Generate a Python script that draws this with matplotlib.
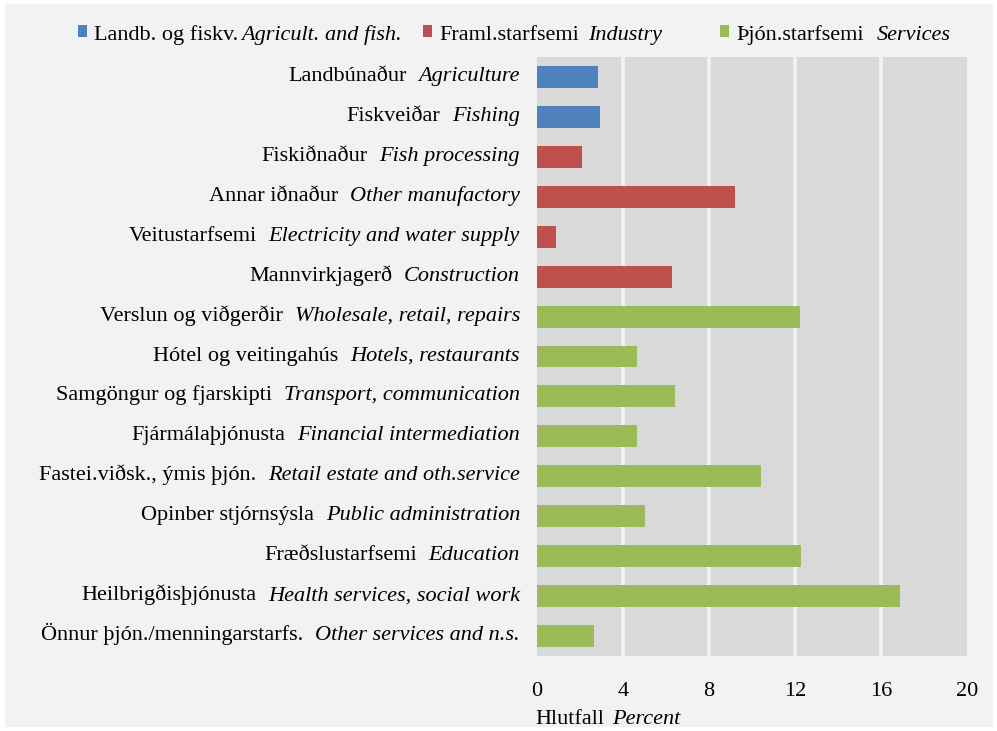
import numpy as np
import matplotlib.pyplot as plt
from matplotlib.patches import Rectangle

# Data (top to bottom)
icelandic = ['Landbúnaður', 'Fiskveiðar', 'Fiskiðnaður', 'Annar iðnaður',
             'Veitustarfsemi', 'Mannvirkjagerð', 'Verslun og viðgerðir',
             'Hótel og veitingahús', 'Samgöngur og fjarskipti',
             'Fjármálaþjónusta', 'Fastei.viðsk., ýmis þjón.',
             'Opinber stjórnsýsla', 'Fræðslustarfsemi', 'Heilbrigðisþjónusta',
             'Önnur þjón./menningarstarfs.']
english = ['Agriculture', 'Fishing', 'Fish processing', 'Other manufactory',
           'Electricity and water supply', 'Construction',
           'Wholesale, retail, repairs', 'Hotels, restaurants',
           'Transport, communication', 'Financial intermediation',
           'Retail estate and oth.service', 'Public administration',
           'Education', 'Health services, social work',
           'Other services and n.s.']
values = [2.85, 2.93, 2.10, 9.20, 0.88, 6.28, 12.25, 4.67, 6.43, 4.67,
          10.40, 5.04, 12.26, 16.88, 2.64]
sector = [0, 0, 1, 1, 1, 1, 2, 2, 2, 2, 2, 2, 2, 2, 2]

sector_is = ['Landb. og fiskv.', 'Framl.starfsemi', 'Þjón.starfsemi']
sector_en = ['Agricult. and fish.', 'Industry', 'Services']
colors = ['#4f81bd', '#c0504d', '#9bbb59']

xticks = [0, 4, 8, 12, 16, 20]

FONT = 'Liberation Serif'
FS = 16
W, H = 997, 731

plt.rcParams['font.family'] = [FONT, 'DejaVu Serif']

fig = plt.figure(figsize=(W / 100, H / 100), dpi=100, facecolor='white')
fig.patches.append(Rectangle((5 / W, 4 / H), 988 / W, 723 / H, transform=fig.transFigure,
                             facecolor='#f2f2f2', edgecolor='none', zorder=-10))

ax = fig.add_axes([537 / W, 1 - 656 / H, 430 / W, 599 / H])
ax.set_facecolor('#d9d9d9')
for s in ax.spines.values():
    s.set_visible(False)

ypos = np.arange(len(values))
ax.barh(ypos, values, height=0.55, color=[colors[s] for s in sector], zorder=3)
ax.set_xlim(0, 20)
ax.set_ylim(len(values) - 0.5, -0.5)
ax.set_xticks(xticks)
ax.set_xticklabels([str(t) for t in xticks], fontsize=FS, family=FONT)
ax.tick_params(axis='x', length=0, pad=19)
ax.set_yticks([])
for t in xticks[1:-1]:
    ax.axvline(t, color='#f2f2f2', lw=2.8, zorder=2)

fig.canvas.draw()
r = fig.canvas.get_renderer()


def text_pair(x, y, reg, ita, gap, align):
    # "regular  italic" on one baseline, positions in figure pixels
    kw = dict(fontsize=FS, family=FONT, va='baseline')
    if align == 'right':
        t2 = fig.text(x / W, y / H, ita, style='italic', ha='right', **kw)
        x0 = t2.get_window_extent(r).x0
        fig.text((x0 - gap) / W, y / H, reg, ha='right', **kw)
    else:
        t1 = fig.text(x / W, y / H, reg, ha='left', **kw)
        x1 = t1.get_window_extent(r).x1
        fig.text((x1 + gap) / W, y / H, ita, style='italic', ha='left', **kw)


for i in range(len(values)):
    ypx = ax.transData.transform((0, ypos[i]))[1]
    text_pair(520, ypx - 4, icelandic[i], english[i], 12, 'right')

# x axis title
text_pair(535, H - 724, 'Hlutfall', 'Percent', 8, 'left')

# legend
leg_x = [78, 423, 720]
leg_gap = [3, 9, 13]
for k in range(3):
    fig.patches.append(Rectangle(((leg_x[k]) / W, (H - 37) / H), 9 / W, 12 / H,
                                 transform=fig.transFigure, facecolor=colors[k],
                                 edgecolor='none'))
    text_pair(leg_x[k] + 16, H - 40, sector_is[k], sector_en[k], leg_gap[k], 'left')

fig.savefig('out.png', dpi=100, facecolor=fig.get_facecolor())
